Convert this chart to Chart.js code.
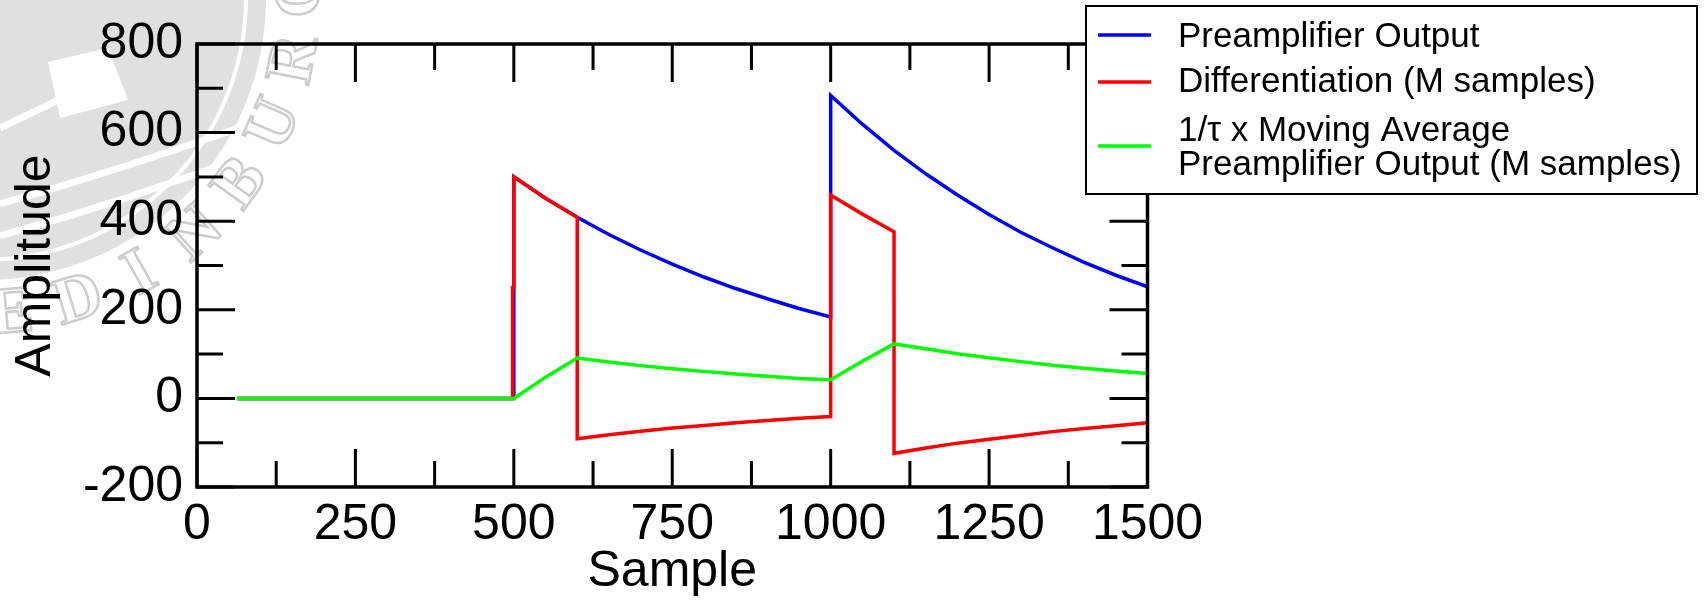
<!DOCTYPE html>
<html>
<head>
<meta charset="utf-8">
<script src="https://cdn.jsdelivr.net/npm/chart.js@4.4.1/dist/chart.umd.min.js"></script>
<style>
  html, body { margin: 0; padding: 0; background: #fff; overflow: hidden; }
  canvas { display: block; }
</style>
</head>
<body>
<canvas id="signalChart" width="1706" height="606"></canvas>
<script>
// Preamplifier output (blue)
const preampSamples = [63, 499, 500, 550, 600, 650, 700, 750, 800, 850, 900, 950, 1000, 1000, 1050, 1100, 1150, 1200, 1250, 1300, 1350, 1400, 1450, 1500];
const preampValues = [0, 0, 500, 452, 409, 370, 335, 303, 274, 248, 225, 203, 184, 684, 619, 560, 507, 459, 415, 375, 340, 307, 278, 252];

// Differentiation over M samples (red)
const diffSamples = [63, 498, 498, 500, 500, 550, 600, 600, 650, 700, 750, 800, 850, 900, 950, 1000, 1000, 1050, 1100, 1100, 1150, 1200, 1250, 1300, 1350, 1400, 1450, 1500];
const diffValues = [0, 0, 250, 250, 500, 452, 409, -91, -82, -74, -67, -61, -55, -50, -45, -41, 459, 416, 376, -124, -112, -101, -92, -84, -75, -68, -62, -55];

// 1/tau x moving average (green)
const avgSamples = [63, 500, 550, 600, 650, 700, 750, 800, 850, 900, 950, 1000, 1050, 1100, 1150, 1200, 1250, 1300, 1350, 1400, 1450, 1500];
const avgValues = [0, 0, 48, 91, 82, 74, 67, 61, 55, 50, 45, 42, 84, 123, 112, 101, 92, 83, 75, 68, 62, 56];

// axis ticks
const xTicks = [0, 250, 500, 750, 1000, 1250, 1500];
const yTicks = [-200, 0, 200, 400, 600, 800];

const seriesLabels = ['Preamplifier Output', 'Differentiation (M samples)', ['1/\u03c4 x Moving Average', 'Preamplifier Output (M samples)']];
const seriesColors = ['#0000ff', '#ff0000', '#00ff00'];
const crestLetters = ['E', 'D', 'I', 'N', 'B', 'U', 'R', 'G', 'H'];

const FONT = '"Liberation Sans", Arial, Helvetica, sans-serif';

function toPoints(xs, ys) {
  return xs.map((x, i) => ({ x: x, y: ys[i] }));
}

// Faint university seal behind the plot
const crestPlugin = {
  id: 'crest',
  beforeDraw(chart) {
    const ctx = chart.ctx;
    const cx = -16, cy = -2;
    ctx.save();
    ctx.fillStyle = '#e0e0e0';
    ctx.beginPath();
    ctx.arc(cx, cy, 282, 0, Math.PI * 2);
    ctx.fill();

    // a few white strokes for the book / banner inside the seal
    ctx.strokeStyle = '#ffffff';
    ctx.lineWidth = 7;
    ctx.beginPath();
    ctx.moveTo(0, 236);
    ctx.quadraticCurveTo(130, 200, 262, 150);
    ctx.moveTo(0, 204);
    ctx.quadraticCurveTo(120, 170, 250, 124);
    ctx.moveTo(0, 128);
    ctx.quadraticCurveTo(60, 100, 100, 78);
    ctx.stroke();
    ctx.lineWidth = 4;
    ctx.beginPath();
    ctx.arc(cx, cy, 262, 0, Math.PI / 2);
    ctx.stroke();
    ctx.fillStyle = '#ffffff';
    ctx.beginPath();
    ctx.moveTo(48, 62);
    ctx.lineTo(108, 48);
    ctx.lineTo(128, 100);
    ctx.lineTo(60, 118);
    ctx.closePath();
    ctx.fill();

    // lettering round the rim
    ctx.strokeStyle = '#cdcdcd';
    ctx.lineWidth = 2.5;
    ctx.font = 'bold 66px "Liberation Serif", "DejaVu Serif", serif';
    ctx.textAlign = 'center';
    ctx.textBaseline = 'middle';
    crestLetters.forEach((ch, i) => {
      const ang = (85 - i * 12.3) * Math.PI / 180;
      const r = 318;
      ctx.save();
      ctx.translate(cx + r * Math.cos(ang), cy + r * Math.sin(ang));
      ctx.rotate(ang - Math.PI / 2);
      ctx.strokeText(ch, 0, 0);
      ctx.restore();
    });
    ctx.restore();
  }
};

// Box frame with inward major/minor ticks on all four sides
const framePlugin = {
  id: 'frame',
  afterDatasetsDraw(chart) {
    const { ctx, chartArea: a, scales: { x, y } } = chart;
    const major = 38, minor = 26;
    ctx.save();
    ctx.strokeStyle = '#000';
    ctx.lineWidth = 3;
    ctx.beginPath();
    xTicks.forEach((v, i) => {
      const px = x.getPixelForValue(v);
      ctx.moveTo(px, a.bottom); ctx.lineTo(px, a.bottom - major);
      ctx.moveTo(px, a.top); ctx.lineTo(px, a.top + major);
      if (i < xTicks.length - 1) {
        const mx = x.getPixelForValue((v + xTicks[i + 1]) / 2);
        ctx.moveTo(mx, a.bottom); ctx.lineTo(mx, a.bottom - minor);
        ctx.moveTo(mx, a.top); ctx.lineTo(mx, a.top + minor);
      }
    });
    yTicks.forEach((v, i) => {
      const py = y.getPixelForValue(v);
      ctx.moveTo(a.left, py); ctx.lineTo(a.left + major, py);
      ctx.moveTo(a.right, py); ctx.lineTo(a.right - major, py);
      if (i < yTicks.length - 1) {
        const my = y.getPixelForValue((v + yTicks[i + 1]) / 2);
        ctx.moveTo(a.left, my); ctx.lineTo(a.left + minor, my);
        ctx.moveTo(a.right, my); ctx.lineTo(a.right - minor, my);
      }
    });
    ctx.stroke();
    ctx.lineWidth = 3.5;
    ctx.strokeRect(a.left, a.top, a.right - a.left, a.bottom - a.top);
    ctx.restore();
  }
};

// Boxed legend in the top right corner
const legendPlugin = {
  id: 'boxLegend',
  afterDraw(chart) {
    const ctx = chart.ctx;
    const box = { left: 1086, top: 6, width: 611, height: 188 };
    const lineY = [35, 82, 146];
    const baselines = [[47], [92], [141, 175]];
    ctx.save();
    ctx.fillStyle = '#fff';
    ctx.fillRect(box.left, box.top, box.width, box.height);
    ctx.strokeStyle = '#000';
    ctx.lineWidth = 2;
    ctx.strokeRect(box.left, box.top, box.width, box.height);
    ctx.font = '35px ' + FONT;
    ctx.textAlign = 'left';
    ctx.textBaseline = 'alphabetic';
    seriesLabels.forEach((label, i) => {
      ctx.strokeStyle = seriesColors[i];
      ctx.lineWidth = 3.5;
      ctx.beginPath();
      ctx.moveTo(1098, lineY[i]);
      ctx.lineTo(1151, lineY[i]);
      ctx.stroke();
      ctx.fillStyle = '#000';
      const lines = Array.isArray(label) ? label : [label];
      lines.forEach((t, j) => ctx.fillText(t, 1178, baselines[i][j]));
    });
    ctx.restore();
  }
};

const ctx = document.getElementById('signalChart').getContext('2d');
new Chart(ctx, {
  type: 'line',
  data: {
    datasets: [{
      label: 'Preamplifier Output',
      data: toPoints(preampSamples, preampValues),
      borderColor: seriesColors[0],
      order: 3
    }, {
      label: 'Differentiation (M samples)',
      data: toPoints(diffSamples, diffValues),
      borderColor: seriesColors[1],
      order: 2
    }, {
      label: '1/\u03c4 x Moving Average Preamplifier Output (M samples)',
      data: toPoints(avgSamples, avgValues),
      borderColor: seriesColors[2],
      order: 1
    }]
  },
  options: {
    responsive: false,
    animation: false,
    devicePixelRatio: 1,
    parsing: false,
    elements: {
      line: { borderWidth: 3.5, tension: 0, fill: false, borderCapStyle: 'butt' },
      point: { radius: 0, hoverRadius: 0 }
    },
    layout: { padding: { left: 0, top: 44, right: 558.5, bottom: 0 } },
    plugins: {
      legend: { display: false },
      tooltip: { enabled: false }
    },
    scales: {
      x: {
        type: 'linear',
        min: 0,
        max: 1500,
        afterBuildTicks: scale => { scale.ticks = xTicks.map(v => ({ value: v })); },
        afterFit: scale => { scale.height = 119; },
        grid: { display: false, drawTicks: false },
        border: { display: false },
        ticks: {
          autoSkip: false,
          maxRotation: 0,
          padding: 8,
          color: '#000',
          font: { family: FONT, size: 50 },
          callback: value => String(value)
        },
        title: {
          display: true,
          text: 'Sample',
          color: '#000',
          padding: { top: 0, bottom: 4 },
          font: { family: FONT, size: 50 }
        }
      },
      y: {
        type: 'linear',
        min: -200,
        max: 800,
        afterBuildTicks: scale => { scale.ticks = yTicks.map(v => ({ value: v })); },
        afterFit: scale => { scale.width = 197; },
        grid: { display: false, drawTicks: false },
        border: { display: false },
        ticks: {
          autoSkip: false,
          padding: 14,
          color: '#000',
          font: { family: FONT, size: 50 },
          callback: value => String(value)
        },
        title: {
          display: true,
          text: 'Amplitude',
          color: '#000',
          padding: { top: 6, bottom: 0 },
          font: { family: FONT, size: 50 }
        }
      }
    }
  },
  plugins: [crestPlugin, framePlugin, legendPlugin]
});
</script>
</body>
</html>
